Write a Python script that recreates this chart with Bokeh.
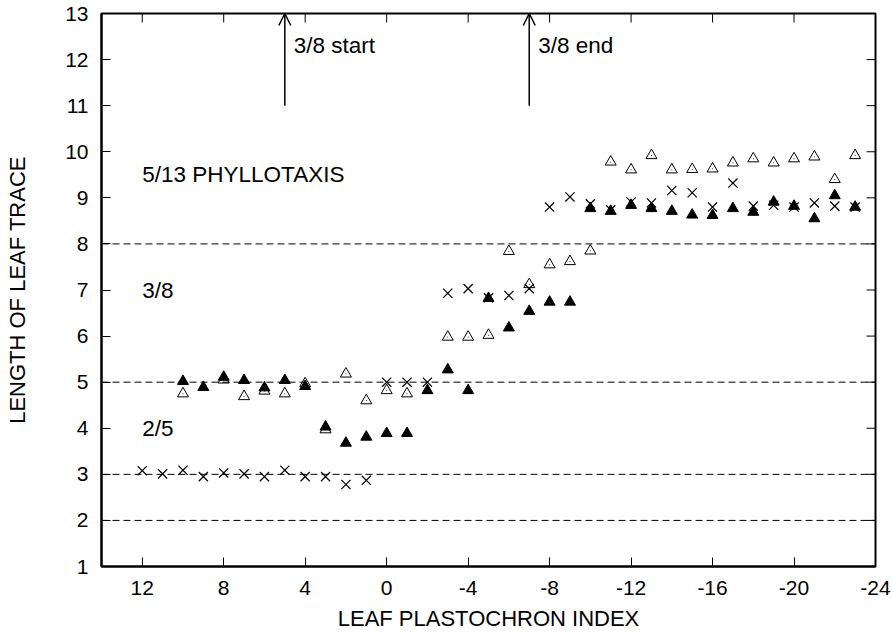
import math
from bokeh.plotting import figure
from bokeh.models import Range1d, FixedTicker, Span, Label, Arrow, OpenHead
from bokeh.embed import file_html
from bokeh.resources import INLINE

# ---- data ----
lpi_cross = [12, 11, 10, 9, 8, 7, 6, 5, 4, 3, 2, 1, 0, -1, -2, -3, -4, -5, -6, -7,
             -8, -9, -10, -11, -12, -13, -14, -15, -16, -17, -18, -19, -20, -21, -22, -23]
len_cross = [3.08, 3.01, 3.09, 2.95, 3.03, 3.01, 2.95, 3.09, 2.95, 2.95, 2.78, 2.87,
             5.00, 5.00, 5.00, 6.93, 7.03, 6.83, 6.88, 7.03,
             8.80, 9.02, 8.87, 8.74, 8.91, 8.89, 9.16, 9.11, 8.80, 9.32, 8.82, 8.84,
             8.80, 8.89, 8.82, 8.80]

lpi_filled = [10, 9, 8, 7, 6, 5, 4, 3, 2, 1, 0, -1, -2, -3, -4, -5, -6, -7, -8, -9,
              -10, -11, -12, -13, -14, -15, -16, -17, -18, -19, -20, -21, -22, -23]
len_filled = [5.02, 4.89, 5.11, 5.04, 4.88, 5.04, 4.91, 4.03, 3.68, 3.81, 3.89, 3.89,
              4.82, 5.27, 4.82, 6.82, 6.18, 6.54, 6.74, 6.74,
              8.77, 8.71, 8.84, 8.77, 8.71, 8.63, 8.62, 8.77, 8.69, 8.91, 8.82, 8.55,
              9.05, 8.80]

lpi_open = [10, 8, 7, 6, 5, 4, 3, 2, 1, 0, -1, -3, -4, -5, -6, -7, -8, -9, -10,
            -11, -12, -13, -14, -15, -16, -17, -18, -19, -20, -21, -22, -23]
len_open = [4.75, 5.05, 4.69, 4.81, 4.75, 4.97, 3.97, 5.18, 4.60, 4.82, 4.75,
            5.98, 5.98, 6.02, 7.84, 7.12, 7.55, 7.62, 7.85,
            9.78, 9.61, 9.92, 9.61, 9.62, 9.63, 9.76, 9.85, 9.76, 9.85, 9.89, 9.40, 9.92]

x_ticks = [12, 8, 4, 0, -4, -8, -12, -16, -20, -24]
y_ticks = list(range(1, 14))
boundary_levels = [2, 3, 5, 8]

zone_labels = ["5/13 PHYLLOTAXIS", "3/8", "2/5"]
zone_label_y = [9.5, 7.0, 4.0]
zone_label_x = 12

arrow_x = [5, -7]
arrow_y0 = 11
arrow_y1 = 13
arrow_text = ["3/8 start", "3/8 end"]
arrow_text_y = 12.3

X_MIN, X_MAX = 14, -24
Y_MIN, Y_MAX = 1, 13

FONT = "Liberation Sans"

p = figure(width=892, height=637,
           x_range=Range1d(X_MIN, X_MAX), y_range=Range1d(Y_MIN, Y_MAX),
           output_backend="svg", toolbar_location=None,
           min_border_left=101, min_border_right=17,
           min_border_top=13, min_border_bottom=71,
           background_fill_color="white", border_fill_color="white")

p.xgrid.visible = False
p.ygrid.visible = False
p.outline_line_color = "black"
p.outline_line_width = 2

for ax in (p.xaxis[0], p.yaxis[0]):
    ax.axis_line_color = "black"
    ax.axis_line_width = 2
    ax.major_tick_in = 9
    ax.major_tick_out = 0
    ax.minor_tick_in = 0
    ax.minor_tick_out = 0
    ax.major_tick_line_color = "black"
    ax.major_tick_line_width = 1
    ax.major_label_text_font = FONT
    ax.major_label_text_font_size = "21px"
    ax.major_label_text_color = "black"
    ax.axis_label_text_font = FONT
    ax.axis_label_text_font_size = "22px"
    ax.axis_label_text_font_style = "normal"
    ax.axis_label_text_color = "black"

p.xaxis.ticker = FixedTicker(ticks=x_ticks)
p.xaxis.major_label_overrides = {t: str(t) for t in x_ticks}
p.xaxis.axis_label = "LEAF PLASTOCHRON INDEX"
p.xaxis.major_label_standoff = 14
p.xaxis.axis_label_standoff = 8

p.yaxis.ticker = FixedTicker(ticks=y_ticks)
p.yaxis.major_label_overrides = {t: str(t) for t in y_ticks}
p.yaxis.axis_label = "LENGTH OF LEAF TRACE"
p.yaxis.major_label_standoff = 13
p.yaxis.axis_label_standoff = 32

# mirrored inward ticks on the top and right edges
p.ray(x=x_ticks, y=[Y_MAX] * len(x_ticks), length=9, length_units="screen",
      angle=-math.pi / 2, line_color="black", line_width=1)
p.ray(x=[X_MAX] * len(y_ticks), y=y_ticks, length=9, length_units="screen",
      angle=math.pi, line_color="black", line_width=1)

for lv in boundary_levels:
    p.add_layout(Span(location=lv, dimension="width", line_color="black",
                      line_width=1, line_dash="7 4"))

p.scatter(lpi_cross, len_cross, marker="x", size=13, line_color="black", line_width=1.2)
p.scatter(lpi_filled, len_filled, marker="triangle", size=11,
          fill_color="black", line_color="black", line_width=1)
p.scatter(lpi_open, len_open, marker="triangle", size=11,
          fill_color=None, line_color="black", line_width=1)
p.scatter(lpi_open, len_open, marker="dot", size=4, line_color="black")

for txt, yy in zip(zone_labels, zone_label_y):
    p.add_layout(Label(x=zone_label_x, y=yy, text=txt, text_font=FONT,
                       text_font_size="22.5px", text_baseline="middle",
                       text_align="left", text_color="black"))

for xx, txt in zip(arrow_x, arrow_text):
    p.add_layout(Arrow(x_start=xx, y_start=arrow_y0, x_end=xx, y_end=arrow_y1,
                       line_color="black", line_width=1.5,
                       end=OpenHead(size=12, line_width=1.5, line_color="black")))
    p.add_layout(Label(x=xx, y=arrow_text_y, text=txt, x_offset=9, text_font=FONT,
                       text_font_size="22.5px", text_baseline="middle",
                       text_align="left", text_color="black"))

open("out.html", "w").write(file_html(p, INLINE))
